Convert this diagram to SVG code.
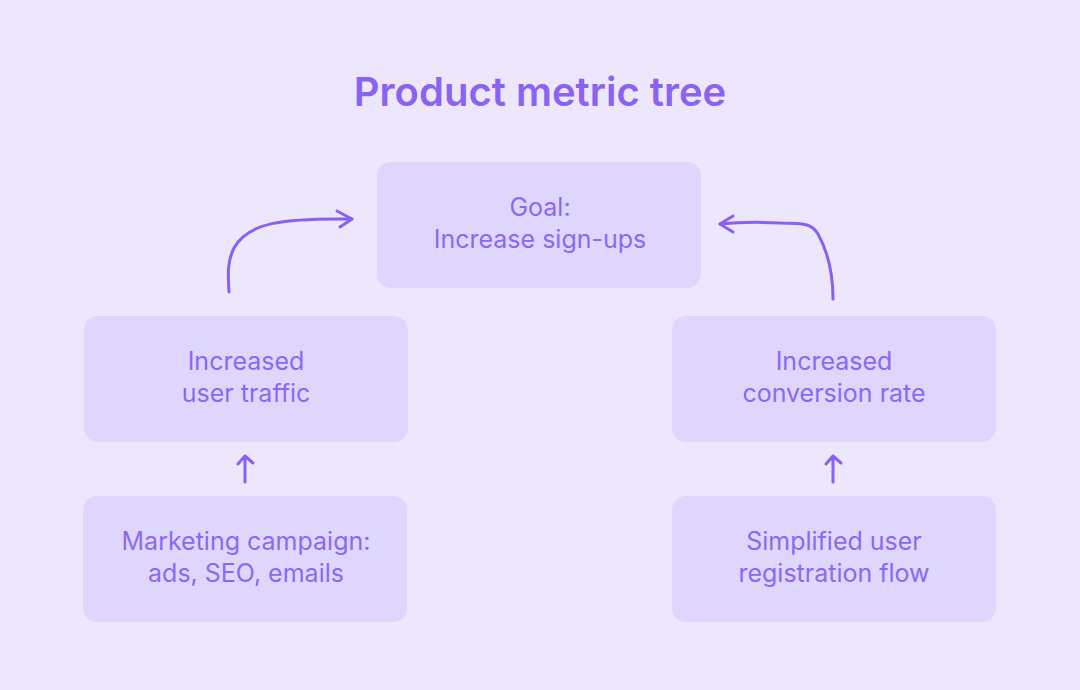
<svg xmlns="http://www.w3.org/2000/svg" width="1080" height="690" viewBox="0 0 1080 690">
<style>
.box{fill:#DED6FD}
.t{font-family:"Inter","Noto Sans",sans-serif;font-size:25px;fill:#8B68F5;text-anchor:middle}
.ln{fill:none;stroke:#8860F6;stroke-width:3;stroke-linecap:round;stroke-linejoin:round}
</style>
<rect width="1080" height="690" fill="#EDE7FE"/>
<text x="540" y="106" class="t" style="font-size:40px;font-weight:600;fill:#8A62F4">Product metric tree</text>
<g id="goal"><rect class="box" x="377" y="162" width="324" height="126" rx="14"/><text class="t" x="540" y="216">Goal:</text><text class="t" x="540" y="248">Increase sign-ups</text></g>
<g id="traffic"><rect class="box" x="84" y="316" width="324" height="126" rx="14"/><text class="t" x="246" y="370">Increased</text><text class="t" x="246" y="402">user traffic</text></g>
<g id="conversion"><rect class="box" x="672" y="316" width="324" height="126" rx="14"/><text class="t" x="834" y="370">Increased</text><text class="t" x="834" y="402">conversion rate</text></g>
<g id="marketing"><rect class="box" x="83" y="496" width="324" height="126" rx="14"/><text class="t" x="246" y="550">Marketing campaign:</text><text class="t" x="246" y="582">ads, SEO, emails</text></g>
<g id="registration"><rect class="box" x="672" y="496" width="324" height="126" rx="14"/><text class="t" x="834" y="550">Simplified user</text><text class="t" x="834" y="582">registration flow</text></g>
<g id="connectors">
<path class="ln" d="M229 292 C228 275 227 262 234 248 C248 222 285 218 352 219"/>
<path class="ln" d="M337 211 L352 219 L340 227"/>
<path class="ln" d="M833 299 C833 275 828 252 818 234 C812 224 805 223 780 223 C760 222 740 222 720 224"/>
<path class="ln" d="M733 216 L720 224 L733 232"/>
<path class="ln" d="M245 482 L245 456 M238 464 L245 456 L253 463"/>
<path class="ln" d="M833 482 L833 456 M826 464 L833 456 L841 463"/>
</g>
</svg>
